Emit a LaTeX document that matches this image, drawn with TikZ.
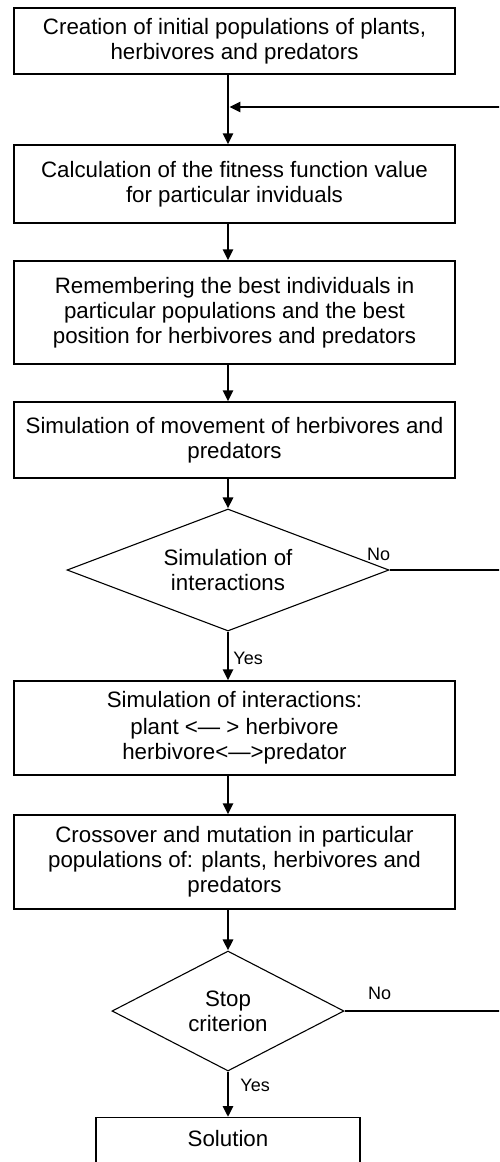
\documentclass[tikz,border=0pt]{standalone}
\usepackage{fontspec}
\setmainfont{Liberation Sans}
\usetikzlibrary{arrows.meta,shapes.geometric}
\begin{document}
\begin{tikzpicture}[x=1pt,y=-1pt,
  every node/.style={font=\fontsize{22.3}{25}\selectfont},
  stepbox/.style={draw,line width=1.3pt,rectangle,minimum width=441pt,inner sep=0pt,align=center},
  decision/.style={draw,line width=1.1pt,diamond,inner sep=0pt,align=center},
  flow/.style={line width=2.8pt,-{Triangle[length=11pt,width=10pt]}},
  link/.style={line width=2.8pt},
  tag/.style={font=\fontsize{18}{20}\selectfont,inner sep=0pt}]
\useasboundingbox (0,0) rectangle (499,1162);
\clip (0,0) rectangle (499,1162);

% process steps and decisions
\node[stepbox,minimum height=66pt] (b1) at (234.5,41)
  {Creation of initial populations of plants,\\herbivores and predators};
\node[stepbox,minimum height=78pt] (b2) at (234.5,184)
  {Calculation of the fitness function value\\for particular inviduals};
\node[stepbox,minimum height=103pt] (b3) at (234.5,312.5)
  {Remembering the best individuals in\\particular populations and the best\\position for herbivores and predators};
\node[stepbox,minimum height=76pt] (b4) at (234.5,440)
  {Simulation of movement of herbivores and\\predators};
\node[decision,aspect=2.64,minimum width=322pt,minimum height=122pt] (d1) at (228,570)
  {Simulation of\\interactions};
\node[stepbox,minimum height=94pt] (b5) at (234.5,728)
  {Simulation of interactions:\\[2pt]plant <— > herbivore\\herbivore<—>predator};
\node[stepbox,minimum height=94pt] (b6) at (234.5,862)
  {Crossover and mutation in particular\\populations of: plants, herbivores and\\predators};
\node[decision,aspect=1.93,minimum width=232pt,minimum height=120pt] (d2) at (228,1011)
  {Stop\\criterion};
\node[stepbox,minimum width=264pt,anchor=north,text height=29pt,text depth=31pt] (sol) at (228,1117)
  {Solution};

% main flow
\coordinate (j) at (228,107);
\coordinate (rt) at (530,107);
\draw[flow] (b1.south -| j) -- (b2.north -| j);
\draw[flow] (b2.south -| j) -- (b3.north -| j);
\draw[flow] (b3.south -| j) -- (b4.north -| j);
\draw[flow] (b4.south -| j) -- (d1.north);
\draw[flow] (d1.south) -- node[tag,pos=0.54,right=4pt]{Yes} (b5.north -| j);
\draw[flow] (b5.south -| j) -- (b6.north -| j);
\draw[flow] (b6.south -| j) -- (d2.north);
\draw[flow] (d2.south) -- node[tag,pos=0.3,right=11pt]{Yes} (sol.north);

% loop back
\draw[link] (d1.east) -- (d1.east -| rt) -- (rt);
\draw[link] (d2.east) -- (d2.east -| rt) -- (rt);
\draw[flow,shorten >=1.4pt] (rt) -- (j);
\node[tag] (no1) at ([xshift=-11pt,yshift=16pt]d1.east) {No};
\node[tag] (no2) at ([xshift=35pt,yshift=18pt]d2.east) {No};
\end{tikzpicture}
\end{document}
